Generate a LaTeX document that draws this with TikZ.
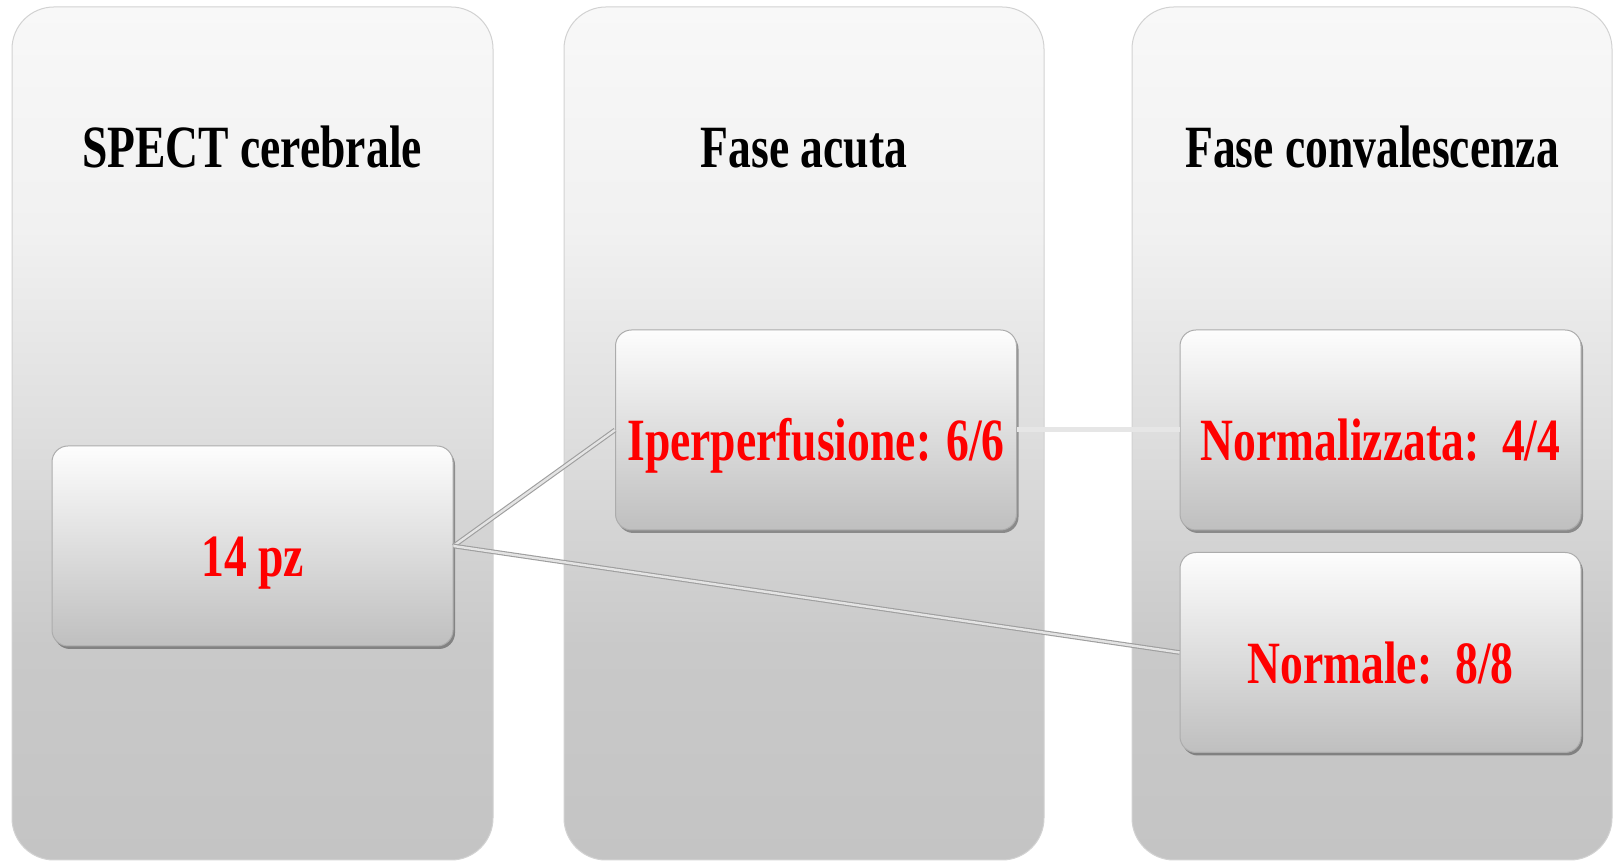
\documentclass[tikz,border=0pt]{standalone}
\usepackage{fontspec}
\setmainfont{Liberation Serif}[FakeStretch=0.76]
\usetikzlibrary{shadows}
\definecolor{colA}{HTML}{C4C4C4}
\definecolor{colB}{HTML}{C9C9C9}
\definecolor{colC}{HTML}{DEDEDE}
\definecolor{colD}{HTML}{F1F1F1}
\definecolor{colE}{HTML}{F8F8F8}
\definecolor{boxtop}{HTML}{FDFDFD}
\definecolor{boxbot}{HTML}{BFBFBF}
\definecolor{redtxt}{HTML}{FF0000}
\definecolor{linkin}{HTML}{E4E4E4}
\definecolor{linkout}{HTML}{9E9E9E}
\definecolor{linklight}{HTML}{E6E6E6}
\pgfdeclareverticalshading{colshade}{100bp}{color(0bp)=(colA); color(25bp)=(colA); color(37.5bp)=(colB); color(50bp)=(colC); color(62bp)=(colD); color(75bp)=(colE); color(100bp)=(colE)}
\tikzset{
  column/.style={draw=gray!35, line width=1pt, rounded corners=42pt, shading=colshade},
  header/.style={anchor=base, text=black, font=\fontsize{60}{66}\selectfont\bfseries},
  stepbox/.style={draw=gray!65, line width=1pt, rounded corners=16pt, top color=boxtop, bottom color=boxbot,
    minimum width=401pt, minimum height=200pt, inner sep=0pt, text=redtxt,
    font=\fontsize{60}{66}\selectfont\bfseries, text height=70pt, text depth=8pt,
    drop shadow={shadow xshift=2pt, shadow yshift=-3pt, opacity=0.35, fill=black}},
  link/.style={draw=linkout, double=linkin, line width=1.1pt, double distance=2.4pt},
  lightlink/.style={draw=linklight, line width=5pt}
}
\begin{document}
\begin{tikzpicture}[x=1pt,y=1pt]
\useasboundingbox[fill=white] (0,0) rectangle (1620,861);
% columns
\path[column] (12,1) rectangle (493,854);
\path[column] (564,1) rectangle (1044,854);
\path[column] (1132,1) rectangle (1612,854);
% headers
\node[header] (h1) at (252,693) {SPECT cerebrale};
\node[header] (h2) at (804,693) {Fase acuta};
\node[header] (h3) at (1372,693) {Fase convalescenza};
% boxes
\node[stepbox] (pz) at (252.5,315) {14 pz};
\node[stepbox] (iper) at (816,431) {Iperperfusione: 6/6};
\node[stepbox] (norm1) at (1380.5,431) {Normalizzata:\ \ 4/4};
\node[stepbox] (norm2) at (1380.5,208.5) {Normale:\ \ 8/8};
% connectors
\draw[lightlink] (iper.east) -- (norm1.west);
\draw[link] (pz.east) -- (iper.west);
\draw[link] (pz.east) -- (norm2.west);
\end{tikzpicture}
\end{document}
